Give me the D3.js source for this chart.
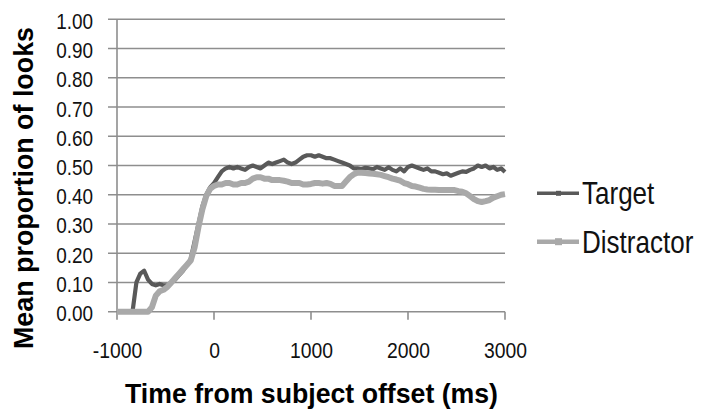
<!DOCTYPE html>
<html><head><meta charset="utf-8">
<script src="https://cdn.jsdelivr.net/npm/d3@7"></script>
<style>body{margin:0;background:#fff}svg{display:block}text{font-family:"Liberation Sans",Arial,sans-serif}</style>
</head><body><svg id="c" width="702" height="412"></svg>
<script>
const times = [-1000,-960,-920,-880,-840,-800,-760,-720,-680,-640,-600,-560,-520,-480,-440,-400,-360,-320,-280,-240,-200,-160,-120,-80,-40,0,40,80,120,160,200,240,280,320,360,400,440,480,520,560,600,640,680,720,760,800,840,880,920,960,1000,1040,1080,1120,1160,1200,1240,1280,1320,1360,1400,1440,1480,1520,1560,1600,1640,1680,1720,1760,1800,1840,1880,1920,1960,2000,2040,2080,2120,2160,2200,2240,2280,2320,2360,2400,2440,2480,2520,2560,2600,2640,2680,2720,2760,2800,2840,2880,2920,2960,3000];
const target = [0,0,0,0,0,0.10,0.13,0.14,0.11,0.095,0.09,0.095,0.09,0.09,0.10,0.11,0.125,0.14,0.16,0.18,0.24,0.30,0.36,0.40,0.425,0.44,0.46,0.48,0.49,0.495,0.49,0.495,0.49,0.485,0.495,0.50,0.495,0.49,0.50,0.51,0.505,0.51,0.515,0.52,0.51,0.505,0.51,0.52,0.53,0.535,0.535,0.53,0.535,0.53,0.525,0.525,0.52,0.515,0.51,0.505,0.50,0.49,0.49,0.488,0.492,0.49,0.487,0.495,0.49,0.485,0.494,0.485,0.48,0.49,0.48,0.495,0.50,0.495,0.49,0.485,0.49,0.48,0.48,0.475,0.47,0.473,0.465,0.47,0.475,0.48,0.478,0.485,0.49,0.50,0.495,0.50,0.49,0.495,0.485,0.49,0.478];
const distractor = [0,0,0,0,0,0,0,0,0,0.015,0.055,0.07,0.075,0.085,0.10,0.115,0.13,0.145,0.16,0.175,0.22,0.29,0.35,0.395,0.42,0.43,0.435,0.435,0.44,0.44,0.435,0.435,0.44,0.44,0.445,0.455,0.46,0.46,0.455,0.455,0.45,0.45,0.45,0.448,0.445,0.44,0.44,0.44,0.435,0.435,0.437,0.44,0.44,0.438,0.44,0.437,0.43,0.43,0.43,0.445,0.46,0.47,0.475,0.475,0.474,0.473,0.472,0.47,0.468,0.464,0.46,0.455,0.452,0.448,0.44,0.436,0.43,0.428,0.424,0.42,0.418,0.417,0.417,0.416,0.416,0.416,0.416,0.416,0.412,0.41,0.405,0.395,0.385,0.378,0.375,0.378,0.382,0.39,0.395,0.40,0.402];
const seriesNames = ["Target","Distractor"];
const xTicks = [-1000,0,1000,2000,3000];
const yTicks = [0,0.1,0.2,0.3,0.4,0.5,0.6,0.7,0.8,0.9,1.0];
const xTitle = "Time from subject offset (ms)";
const yTitle = "Mean proportion of looks";

const svg = d3.select("#c");
const x = d3.scaleLinear().domain([-1000,3000]).range([117,505]);
const y = d3.scaleLinear().domain([0,1]).range([311.7,19.3]);
const gridCol = "#8e8e8e";
const colors = ["#595959","#a9a9a9"];
const widths = [4.2,6];

svg.append("g").selectAll("line").data(yTicks).join("line")
  .attr("x1",108).attr("x2",x(3000)).attr("y1",d=>y(d)).attr("y2",d=>y(d))
  .attr("stroke",gridCol).attr("stroke-width",1.6);
svg.append("line").attr("x1",x(-1000)).attr("x2",x(-1000)).attr("y1",y(1)).attr("y2",y(0))
  .attr("stroke",gridCol).attr("stroke-width",1.6);
svg.append("g").selectAll("line").data(xTicks).join("line")
  .attr("x1",d=>x(d)).attr("x2",d=>x(d)).attr("y1",y(0)).attr("y2",y(0)+8)
  .attr("stroke",gridCol).attr("stroke-width",1.6);

svg.append("g").selectAll("text").data(yTicks).join("text")
  .attr("transform",d=>`translate(93,${y(d)+9.5}) scale(0.86,1)`)
  .attr("text-anchor","end").attr("font-size",22).attr("fill","#111")
  .text(d=>d.toFixed(2));
svg.append("g").selectAll("text").data(xTicks).join("text")
  .attr("transform",d=>`translate(${x(d)+0.5},358) scale(0.86,1)`)
  .attr("text-anchor","middle").attr("font-size",22.5).attr("fill","#111")
  .text(d=>d);

const line = d3.line().x((d,i)=>x(times[i])).y(d=>y(d));
[target,distractor].forEach((s,k)=>{
  svg.append("path").datum(s).attr("d",line).attr("fill","none")
    .attr("stroke",colors[k]).attr("stroke-width",widths[k]).attr("stroke-linejoin","round");
});

const legY = [193.3,241.7];
seriesNames.forEach((n,k)=>{
  const g = svg.append("g");
  g.append("line").attr("x1",537).attr("x2",579).attr("y1",legY[k]).attr("y2",legY[k])
    .attr("stroke",colors[k]).attr("stroke-width",k?4.5:3.5);
  g.append("rect").attr("x",558.5-(k?3.5:2.5)).attr("y",legY[k]-(k?3.5:2.5))
    .attr("width",k?7:5).attr("height",k?7:5).attr("fill",colors[k]);
  g.append("text").attr("transform",`translate(582,${legY[k]+11}) scale(0.84,1)`).attr("font-size",31)
    .attr("fill","#111").text(n);
});

svg.append("text").attr("x",311.5).attr("y",403).attr("text-anchor","middle")
  .attr("font-size",27).attr("font-weight","bold").attr("textLength",373)
  .attr("lengthAdjust","spacingAndGlyphs").attr("fill","#000").text(xTitle);
svg.append("text").attr("transform","translate(33,188) rotate(-90)").attr("text-anchor","middle")
  .attr("font-size",27).attr("font-weight","bold").attr("textLength",322)
  .attr("lengthAdjust","spacingAndGlyphs").attr("fill","#000").text(yTitle);
</script></body></html>
